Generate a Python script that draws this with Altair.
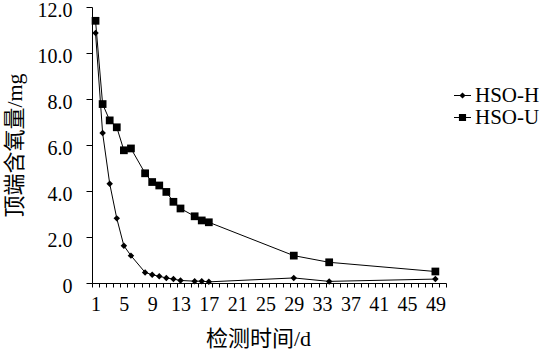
import altair as alt
import pandas as pd

days_h = [1, 2, 3, 4, 5, 6, 8, 9, 10, 11, 12, 13, 15, 16, 17, 29, 34, 49]
vals_h = [10.87, 6.52, 4.32, 2.81, 1.62, 1.19, 0.46, 0.36, 0.29, 0.22, 0.17, 0.11,
          0.08, 0.08, 0.05, 0.22, 0.07, 0.17]
days_u = [1, 2, 3, 4, 5, 6, 8, 9, 10, 11, 12, 13, 15, 16, 17, 29, 34, 49]
vals_u = [11.4, 7.78, 7.07, 6.77, 5.77, 5.85, 4.77, 4.39, 4.24, 3.96, 3.53, 3.24,
          2.9, 2.72, 2.64, 1.19, 0.9, 0.5]
series = ["HSO-H", "HSO-U"]
y_ticks = [0, 2, 4, 6, 8, 10, 12]
x_labels = [1, 5, 9, 13, 17, 21, 25, 29, 33, 37, 41, 45, 49]
x_bounds = [i + 0.5 for i in range(51)]

df = pd.DataFrame(
    {"day": days_h + days_u,
     "val": vals_h + vals_u,
     "s": [series[0]] * len(days_h) + [series[1]] * len(days_u)}
)

LFONT = "Liberation Serif"
TFONT = "Liberation Serif, Noto Sans CJK SC"
xscale = alt.Scale(domain=[0.5, 50.5], nice=False, zero=False)

common = dict(labelFont=LFONT, titleFont=TFONT, labelColor="black", titleColor="black",
              domainColor="black", tickColor="black", domainWidth=1, tickWidth=1,
              grid=False)

x_ticks_axis = alt.X("day:Q", scale=xscale,
                     axis=alt.Axis(values=x_bounds, labels=False, title=None,
                                   tickSize=4, orient="bottom", **common))
x_label_axis = alt.X("day:Q", scale=xscale,
                     axis=alt.Axis(values=x_labels, title="检测时间/d", orient="bottom",
                                   ticks=False, domain=False, format="d",
                                   labelFlush=False, labelOverlap=False,
                                   labelFontSize=20, labelPadding=11,
                                   titleFontSize=22, titleFontWeight="normal",
                                   titleX=166, titleY=55, titleBaseline="middle",
                                   titleAlign="center", **common))
y = alt.Y("val:Q",
          scale=alt.Scale(domain=[0, 12], nice=False),
          axis=alt.Axis(values=y_ticks, title="顶端含氧量/mg",
                        labelExpr="datum.value == 0 ? '0' : format(datum.value, '.1f')",
                        labelFontSize=20, labelPadding=14, tickSize=6, labelOffset=3,
                        titleFontSize=22, titleFontWeight="normal",
                        titleX=-78, titleY=138, titleBaseline="middle", titleAlign="center",
                        titleAngle=270, **common))

lines = alt.Chart(df).mark_line(color="black", strokeWidth=1).encode(
    x=x_ticks_axis, y=y, detail="s:N")

pts = alt.Chart(df).mark_point(filled=True, color="black", opacity=1).encode(
    x=x_label_axis, y=y,
    shape=alt.Shape("s:N", scale=alt.Scale(domain=series, range=["diamond", "square"]),
                    legend=None),
    size=alt.Size("s:N", scale=alt.Scale(domain=series, range=[42, 60]), legend=None),
)

leg_paths = [
    "M-1,-0.06L1,-0.06L1,0.06L-1,0.06ZM0,-0.36L0.36,0L0,0.36L-0.36,0Z",
    "M-1,-0.06L1,-0.06L1,0.06L-1,0.06ZM-0.42,-0.42L0.42,-0.42L0.42,0.42L-0.42,0.42Z",
]
legend_layer = alt.Chart(df).mark_point(filled=True, color="black", opacity=0).encode(
    x=alt.X("day:Q", scale=xscale, axis=None), y=y,
    shape=alt.Shape("s:N", scale=alt.Scale(domain=series, range=leg_paths),
                    legend=alt.Legend(title=None, orient="none", legendX=360, legendY=78,
                                      symbolSize=289, symbolOpacity=1,
                                      symbolFillColor="black", symbolStrokeColor="black",
                                      symbolStrokeWidth=0, labelFontSize=21,
                                      labelFont=LFONT, labelColor="black",
                                      labelOffset=2, rowPadding=0, padding=0)),
)

chart = alt.layer(lines, pts, legend_layer).resolve_scale(
    shape="independent", size="independent"
).resolve_axis(x="independent").properties(
    width=354, height=276,
    background="white",
    autosize=alt.AutoSizeParams(type="none"),
    padding={"left": 92, "top": 7, "right": 96, "bottom": 68},
).configure_view(stroke=None)

chart.save("out.html", embed_options={"renderer": "svg", "actions": False})
